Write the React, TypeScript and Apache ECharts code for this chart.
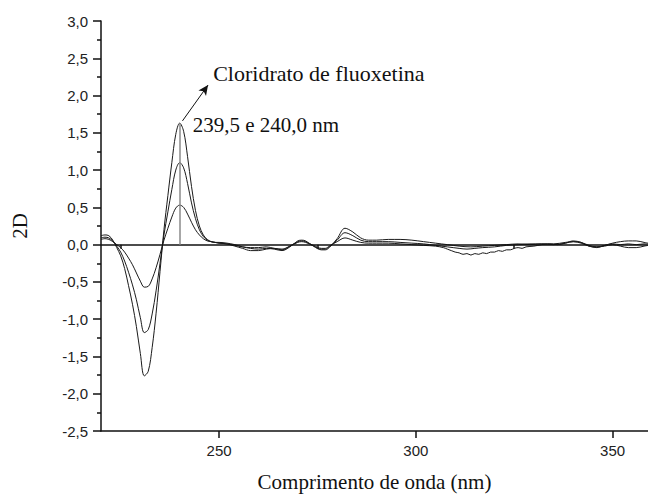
import React, { useEffect, useRef } from "react";
import * as echarts from "echarts";

const xMajorTicks = [250, 300, 350];
const xMinorTicks = [225, 275, 325];

const curveHigh: number[][] = [
  [220, 0.12], [221, 0.13], [222, 0.12], [223, 0.06], [224, -0.04], [225, -0.15], [226, -0.32], [227, -0.55],
  [228, -0.8], [229, -1.1], [230, -1.46], [231, -1.76], [232, -1.7], [233, -1.38], [234, -0.92], [235, -0.36],
  [236, 0.2], [237, 0.66], [238, 1.1], [239, 1.48], [240, 1.63], [241, 1.52], [242, 1.18], [243, 0.78],
  [244, 0.46], [245, 0.25], [246, 0.13], [247, 0.07], [248, 0.04], [249, 0.03], [250, 0.03], [252, 0.02],
  [254, 0.0], [256, -0.03], [258, -0.05], [260, -0.06], [262, -0.05], [264, -0.06], [266, -0.08], [268, -0.03],
  [270, 0.05], [271, 0.06], [272, 0.05], [274, -0.02], [276, -0.07], [277, -0.07], [278, -0.04], [280, 0.08],
  [282, 0.22], [284, 0.17], [286, 0.09], [288, 0.06], [290, 0.06], [293, 0.07], [296, 0.07], [299, 0.06],
  [302, 0.04], [305, 0.02], [308, 0.0], [311, -0.02], [314, -0.03], [317, -0.02], [320, -0.01], [323, 0.0],
  [326, 0.01], [329, 0.0], [332, 0.01], [335, 0.01], [338, 0.03], [340, 0.04], [342, 0.02], [344, -0.02],
  [346, -0.03], [348, -0.01], [350, 0.02], [352, 0.04], [354, 0.05], [356, 0.05], [358, 0.03], [359, 0.02],
];

const curveMid: number[][] = [
  [220, 0.09], [221, 0.1], [222, 0.09], [223, 0.05], [224, -0.02], [225, -0.1], [226, -0.22], [227, -0.37],
  [228, -0.54], [229, -0.74], [230, -0.98], [231, -1.18], [232, -1.14], [233, -0.93], [234, -0.62], [235, -0.25],
  [236, 0.13], [237, 0.44], [238, 0.74], [239, 1.0], [240, 1.1], [241, 1.03], [242, 0.82], [243, 0.56],
  [244, 0.35], [245, 0.2], [246, 0.11], [247, 0.06], [248, 0.04], [249, 0.03], [250, 0.02], [252, 0.01],
  [254, -0.01], [256, -0.03], [258, -0.04], [260, -0.04], [262, -0.03], [264, -0.05], [266, -0.07], [268, -0.02],
  [270, 0.04], [271, 0.05], [272, 0.04], [274, -0.02], [276, -0.06], [277, -0.06], [278, -0.03], [280, 0.06],
  [282, 0.16], [284, 0.12], [286, 0.06], [288, 0.04], [290, 0.04], [293, 0.04], [296, 0.03], [299, 0.02],
  [302, 0.01], [305, -0.01], [308, -0.03], [311, -0.05], [313, -0.06], [315, -0.05], [317, -0.04], [320, -0.03],
  [323, -0.01], [326, 0.0], [329, 0.01], [332, 0.01], [335, 0.0], [338, 0.02], [340, 0.04], [342, 0.03],
  [344, -0.01], [346, -0.03], [348, -0.02], [350, 0.0], [352, -0.02], [354, -0.04], [356, -0.04], [358, -0.02],
  [359, -0.01],
];

const curveLow: number[][] = [
  [220, 0.07], [221, 0.08], [222, 0.07], [223, 0.04], [224, 0.0], [225, -0.04], [226, -0.1], [227, -0.18],
  [228, -0.27], [229, -0.38], [230, -0.49], [231, -0.57], [232, -0.56], [233, -0.46], [234, -0.31], [235, -0.13],
  [236, 0.06], [237, 0.22], [238, 0.37], [239, 0.49], [240, 0.53], [241, 0.5], [242, 0.41], [243, 0.3],
  [244, 0.2], [245, 0.13], [246, 0.08], [247, 0.05], [248, 0.04], [249, 0.03], [250, 0.02], [252, 0.01],
  [254, -0.02], [256, -0.05], [258, -0.08], [260, -0.08], [262, -0.06], [264, -0.05], [266, -0.06], [268, -0.02],
  [270, 0.03], [271, 0.04], [272, 0.03], [274, -0.01], [276, -0.05], [277, -0.05], [278, -0.02], [280, 0.04],
  [282, 0.09], [284, 0.06], [286, 0.03], [288, 0.02], [290, 0.02], [293, 0.02], [296, 0.01], [299, 0.0],
  [302, -0.01], [305, -0.02], [307, -0.04], [308, -0.06], [309, -0.08], [310, -0.1], [311, -0.11], [312, -0.13],
  [313, -0.12], [314, -0.14], [315, -0.12], [316, -0.13], [317, -0.11], [318, -0.12], [319, -0.1], [320, -0.1],
  [321, -0.08], [322, -0.09], [323, -0.07], [324, -0.07], [325, -0.05], [326, -0.04], [327, -0.05], [328, -0.03],
  [330, -0.02], [332, 0.0], [334, 0.01], [336, 0.0], [338, 0.02], [340, 0.05], [342, 0.03], [344, -0.02],
  [346, -0.04], [348, -0.01], [350, 0.01], [352, 0.0], [354, 0.01], [356, 0.0], [358, 0.01], [359, 0.01],
];

const peakWavelength = 240;
const peakValue = 1.63;
const arrowStart = [240.7, 1.66];
const arrowEnd = [247.2, 2.14];
const titleAnchor = [248.5, 2.3];
const peakLabelAnchor = [243.3, 1.6];
const titleText = "Cloridrato de fluoxetina";
const peakText = "239,5 e 240,0 nm";

const serif = "'Liberation Serif', 'Times New Roman', serif";
const sans = "'Liberation Sans', Arial, sans-serif";

export default function App() {
  const ref = useRef<HTMLDivElement>(null);
  useEffect(() => {
    if (!ref.current) return;
    const chart = echarts.init(ref.current, undefined, { renderer: "svg" });
    const lineSeries = (data: number[][], extra: any = {}) => ({
      type: "line",
      data,
      showSymbol: false,
      symbol: "none",
      smooth: 0.35,
      lineStyle: { color: "#1a1a1a", width: 1 },
      silent: true,
      ...extra,
    });
    chart.setOption({
      animation: false,
      backgroundColor: "#ffffff",
      grid: { left: 101, right: 0, top: 21, bottom: 65, containLabel: false, outerBoundsMode: "none" },
      xAxis: [
        {
          type: "value",
          min: 220,
          max: 359,
          position: "bottom",
          axisLine: { show: true, onZero: false, lineStyle: { color: "#111", width: 1.5 } },
          axisTick: { show: true, inside: false, customValues: xMajorTicks, length: 7, lineStyle: { color: "#111", width: 1.5 } },
          axisLabel: {
            customValues: xMajorTicks,
            fontFamily: sans,
            fontSize: 15,
            color: "#222",
            margin: 12,
          },
          splitLine: { show: false },
          name: "Comprimento de onda (nm)",
          nameLocation: "middle",
          nameGap: 40,
          nameTextStyle: { fontFamily: serif, fontSize: 21, color: "#111" },
        },
        {
          type: "value",
          min: 220,
          max: 359,
          position: "bottom",
          offset: 0,
          axisLine: { show: false },
          axisTick: { show: true, inside: false, customValues: xMinorTicks, length: 4, lineStyle: { color: "#111", width: 1.5 } },
          axisLabel: { show: false },
          splitLine: { show: false },
        },
      ],
      yAxis: {
        type: "value",
        min: -2.5,
        max: 3,
        interval: 0.5,
        axisLine: { show: true, onZero: false, lineStyle: { color: "#111", width: 1.5 } },
        axisTick: { show: true, inside: false, length: 8, lineStyle: { color: "#111", width: 1.5 } },
        minorTick: { show: true, splitNumber: 2, length: 4, lineStyle: { color: "#111", width: 1.5 } },
        splitLine: { show: false },
        axisLabel: {
          fontFamily: sans,
          fontSize: 15,
          color: "#222",
          margin: 13,
          formatter: (v: number) => v.toFixed(1).replace(".", ","),
        },
        name: "2D",
        nameLocation: "middle",
        nameRotate: 90,
        nameGap: 71,
        nameTextStyle: { fontFamily: serif, fontSize: 21, color: "#111" },
      },
      series: [
        lineSeries(curveHigh, {
          markLine: {
            silent: true,
            symbol: ["none", "none"],
            label: { show: false },
            animation: false,
            data: [
              { yAxis: 0, lineStyle: { color: "#111", width: 1.5, type: "solid" } },
              [
                { coord: [peakWavelength, 0], lineStyle: { color: "#8a8a8a", width: 1.5, type: "solid" } },
                { coord: [peakWavelength, peakValue] },
              ],
              [
                { coord: arrowStart, symbol: "none", lineStyle: { color: "#111", width: 1, type: "solid" } },
                { coord: arrowEnd, symbol: "arrow", symbolSize: [7, 10] },
              ],
            ],
          },
        }),
        lineSeries(curveMid),
        lineSeries(curveLow),
      ],
    });
    const toPx = (c: number[]) => chart.convertToPixel({ xAxisIndex: 0, yAxisIndex: 0 }, c) as number[];
    const p1 = toPx(titleAnchor);
    const p2 = toPx(peakLabelAnchor);
    const textStyle = { fontFamily: serif, fill: "#111", verticalAlign: "middle", align: "left" };
    chart.setOption({
      graphic: [
        { type: "text", x: p1[0], y: p1[1], silent: true, style: { text: titleText, fontSize: 22, ...textStyle } },
        { type: "text", x: p2[0], y: p2[1], silent: true, style: { text: peakText, fontSize: 21, ...textStyle } },
      ],
    });
    return () => chart.dispose();
  }, []);
  return (
    <div
      ref={ref}
      style={{ position: "fixed", left: 0, top: 0, width: 648, height: 496, background: "#fff" }}
    />
  );
}
